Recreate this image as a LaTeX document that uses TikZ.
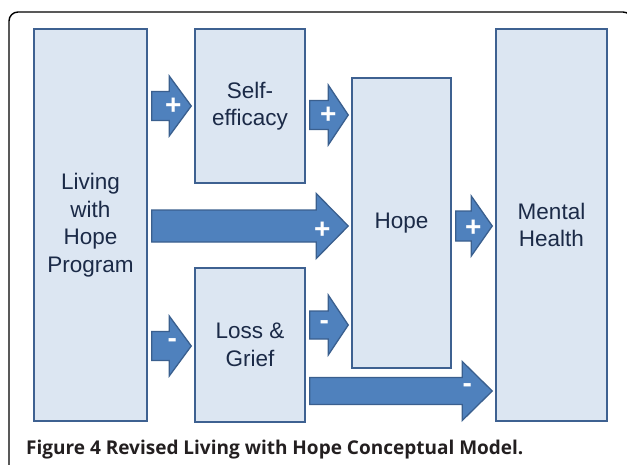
\documentclass[tikz,border=0pt]{standalone}
\usepackage{fontspec}
\setmainfont{Liberation Sans}
\newfontfamily\captionfont{Open Sans}
\usetikzlibrary{calc}

\definecolor{arrow area}{HTML}{4F81BD}
\definecolor{arrow edge}{HTML}{3A5F8E}
\definecolor{box area}{HTML}{DCE6F2}
\definecolor{box edge}{HTML}{3E6191}
\definecolor{box text}{HTML}{1B2A47}
\definecolor{caption text}{HTML}{231F20}
\tikzset{
  frame/.style={draw=black, line width=1.4pt, rounded corners=9pt},
  caption/.style={anchor=base west, inner sep=0pt, text=caption text,
    font=\captionfont\bfseries\fontsize{19}{22}\selectfont}
  }
\tikzstyle{block} = [draw=box edge, line width=1.5pt, fill=box area, text=box text,
  align=center, inner sep=0pt, font=\fontsize{22.5}{27.5}\selectfont]
\tikzstyle{block arrow} = [draw=arrow edge, line width=1.3pt, fill=arrow area, line join=miter]
\tikzstyle{sign} = [text=white, inner sep=0pt, font=\fontsize{28}{28}\selectfont\bfseries]
\def\boxes{{(90.5,225)/lwhp/113/392/{Living\\with\\Hope\\Program}},
  {(250,106)/self/110/154/{Self-\\efficacy}},
  {(250,345)/loss/110/154/{Loss \&\\Grief}},
  {(401.5,223)/hope/99/290/{Hope}},
  {(551.5,225)/mental/111/392/{Mental\\Health}}}
\def\links{lwhp/self/106/14.5/30/22/+/-18/0, self/hope/115/14.5/30/20/+/-20/0,
  lwhp/hope/226/16/32.5/32/+/-26/4, hope/mental/226/15/30/21/+/-19/2,
  lwhp/loss/346/14.5/30/22/-/-19/-3, loss/hope/325/14/30/20/-/-24/0,
  loss/mental/391/13.5/29.5/30/-/-25/-3}

\begin{document}
\begin{tikzpicture}[x=1pt, y=-1pt]

  % Page size and the outer frame
  \useasboundingbox (0,0) rectangle (627,464);
  \begin{scope}
    \clip (0,0) rectangle (627,464);
    \path[frame] (9,12) rectangle (632,476);
  \end{scope}

  % The five concepts
  \foreach \pos/\name/\w/\h/\txt in \boxes
    \node[block, minimum width=\w pt, minimum height=\h pt] (\name) at \pos {\txt};

  % The effects between them
  \foreach \src/\dst/\yy/\sh/\hh/\hl/\sgn/\dx/\dy in \links {
    \coordinate (s) at ($(\src.east |- 0,\yy)+(4,0)$);
    \coordinate (t) at ($(\dst.west |- 0,\yy)+(-3,0)$);
    \coordinate (h) at ($(t)+(-\hl,0)$);
    \draw[block arrow] ($(s)+(0,-\sh)$) -- ($(h)+(0,-\sh)$) -- ($(h)+(0,-\hh)$)
      -- (t) -- ($(h)+(0,\hh)$) -- ($(h)+(0,\sh)$) -- ($(s)+(0,\sh)$) -- cycle;
    \node[sign] (\src-\dst) at ($(t)+(\dx,\dy)$) {\sgn};
  }

  % The caption
  \node[caption] (caption) at (26,454) {Figure 4 Revised Living with Hope Conceptual Model.};
\end{tikzpicture}
\end{document}
